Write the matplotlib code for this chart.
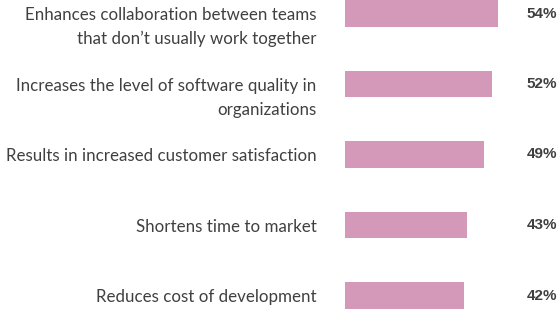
import numpy as np
import matplotlib.pyplot as plt
from matplotlib.transforms import blended_transform_factory

# Data
labels = [
    "Enhances collaboration between teams\nthat don\u2019t usually work together",
    "Increases the level of software quality in\norganizations",
    "Results in increased customer satisfaction",
    "Shortens time to market",
    "Reduces cost of development",
]
values = [54, 52, 49, 43, 42]

bar_color = "#d499b9"
text_color = "#404040"

W, H = 558, 309
fig = plt.figure(figsize=(W / 100, H / 100), dpi=100)
ax = fig.add_axes([0, 0, 1, 1])

y = np.arange(len(values))
ax.barh(y, values, height=0.38, color=bar_color)

# layout: bar origin at 345 px, 2.83 px per percent
px_per = 2.833
ax.set_xlim(-345 / px_per, (W - 345) / px_per)
top, step = 13.5, 70.5
ax.set_ylim((H - top) / step, -top / step)
ax.axis("off")

line_gap = 17.3  # points between label lines
for yi, lab in zip(y, labels):
    for k, line in enumerate(lab.split("\n")):
        ax.annotate(line, xy=(0, yi), xytext=(-20.5, -1.1 - k * line_gap),
                    textcoords="offset points", ha="right", va="center",
                    fontsize=12.2, family="Lato", color=text_color)

trans = blended_transform_factory(ax.transAxes, ax.transData)
for yi, v in zip(y, values):
    ax.text(0.999, yi, f"{v}%", transform=trans, ha="right", va="center",
            fontsize=11, fontweight="bold", family="Liberation Sans", color=text_color)

fig.savefig("out.png", dpi=100)
